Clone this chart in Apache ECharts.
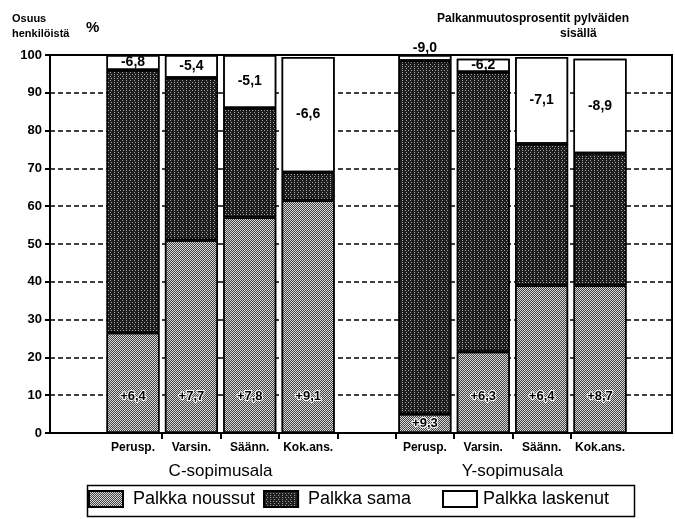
<!DOCTYPE html>
<html>
<head>
<meta charset="utf-8">
<script src="https://cdn.jsdelivr.net/npm/echarts@6/dist/echarts.min.js"></script>
<style>
  html, body { margin: 0; padding: 0; background: #fff; }
  #chart { width: 675px; height: 519px; }
</style>
</head>
<body>
<div id="chart"></div>
<script>
// pylväiden nimet ja paikat x-akselilla (5 = ryhmien väli)
var barNames = ['Perusp.', 'Varsin.', 'Säänn.', 'Kok.ans.', 'Perusp.', 'Varsin.', 'Säänn.', 'Kok.ans.'];
var barSlots = [1, 2, 3, 4, 6, 7, 8, 9];
var groupNames = ['C-sopimusala', 'Y-sopimusala'];
var groupSlots = [2.5, 7.5];
var yTicks = [0, 10, 20, 30, 40, 50, 60, 70, 80, 90, 100];

// osuus henkilöistä %
var noussut = [26.5, 51, 57, 61.5, 5, 21.5, 39, 39];
var sama = [69.5, 43, 29, 7.5, 93.5, 74, 37.5, 35];
var laskenut = [4, 6, 14, 30.5, 1.5, 3.5, 23, 25];

// palkanmuutosprosentit pylväiden sisällä
var nousuLabels = ['+6,4', '+7,7', '+7,8', '+9,1', '+9,3', '+6,3', '+6,4', '+8,7'];
var laskuLabels = ['-6,8', '-5,4', '-5,1', '-6,6', '-9,0', '-6,2', '-7,1', '-8,9'];

var font = '"Liberation Sans", Arial, sans-serif';

// arvo ensin, jotta pino lasketaan y-suunnassa
function pairs(vals) {
    return vals.map(function (v, i) { return [v, barSlots[i]]; });
}

var element = document.getElementById('chart');
var myChart = echarts.init(element);

var lowData = pairs(noussut).map(function (p, i) {
    // matala osa -> luku aivan pohjalle
    if (noussut[i] < 10) {
        return { value: p, label: { distance: 3 } };
    }
    return p;
});
var midData = pairs(sama);
var topData = pairs(laskenut).map(function (p, i) {
    // liian matala valkoinen osa -> luku pylvään yläpuolelle
    if (laskenut[i] < 3) {
        return { value: p, label: { position: 'top', distance: 0 } };
    }
    return p;
});

option = {
    aria: { enabled: true, decal: { show: true } },
    animation: false,
    grid: {
        left: 50,
        right: 3,
        top: 55,
        bottom: 86,
        show: true,
        borderColor: '#000',
        borderWidth: 2
    },
    xAxis: [
        {
            type: 'value',
            min: -0.422,
            max: 10.233,
            splitLine: { show: false },
            axisLine: { show: true, onZero: false, lineStyle: { color: '#000', width: 2 } },
            axisTick: {
                show: true,
                customValues: [1.5, 2.5, 3.5, 4.5, 5.5, 6.5, 7.5, 8.5],
                length: 6,
                lineStyle: { color: '#000', width: 2 }
            },
            axisLabel: {
                customValues: barSlots,
                formatter: function (v) {
                    return barNames[barSlots.indexOf(v)] || '';
                },
                color: '#000',
                fontFamily: font,
                fontWeight: 'bold',
                fontSize: 12,
                margin: 9
            }
        },
        {
            type: 'value',
            position: 'bottom',
            min: -0.422,
            max: 10.233,
            offset: 22,
            splitLine: { show: false },
            axisLine: { show: false },
            axisTick: { show: false },
            axisLabel: {
                customValues: groupSlots,
                formatter: function (v) {
                    return groupNames[groupSlots.indexOf(v)] || '';
                },
                color: '#000',
                fontFamily: font,
                fontSize: 17
            }
        }
    ],
    yAxis: {
        type: 'value',
        min: 0,
        max: 100,
        interval: 10,
        axisLine: { show: true, onZero: false, lineStyle: { color: '#000', width: 2 } },
        axisTick: { show: true, length: 5, lineStyle: { color: '#000', width: 2 } },
        axisLabel: {
            formatter: function (v) { return yTicks.indexOf(v) >= 0 ? String(v) : ''; },
            color: '#000',
            fontFamily: font,
            fontWeight: 'bold',
            fontSize: 13,
            margin: 8
        },
        splitLine: { show: true, lineStyle: { color: '#000', width: 1.5, type: [5, 3] } }
    },
    legend: [
        {
            data: ['Palkka noussut', 'Palkka sama'],
            left: 88,
            top: 490,
            padding: 0,
            icon: 'rect',
            itemWidth: 34,
            itemHeight: 16,
            itemGap: 8,
            textStyle: { color: '#000', fontFamily: font, fontSize: 18, padding: [0, 0, 0, 5] }
        },
        {
            data: ['Palkka laskenut'],
            left: 442,
            top: 490,
            padding: 0,
            icon: 'rect',
            itemWidth: 34,
            itemHeight: 16,
            textStyle: { color: '#000', fontFamily: font, fontSize: 18, padding: [0, 0, 0, 1] }
        }
    ],
    graphic: [
        { type: 'text', left: 12, top: 11, style: { text: 'Osuus\nhenkilöistä', font: 'bold 11px ' + font, fill: '#000', lineHeight: 15 } },
        { type: 'text', left: 86, top: 20, style: { text: '%', font: 'bold 15px ' + font, fill: '#000' } },
        { type: 'text', left: 437, top: 13, style: { text: 'Palkanmuutosprosentit pylväiden', font: 'bold 12px ' + font, fill: '#000' } },
        { type: 'text', left: 560, top: 28, style: { text: 'sisällä', font: 'bold 12px ' + font, fill: '#000' } },
        { type: 'rect', left: 85, top: 483, shape: { width: 547, height: 31 }, style: { fill: 'none', stroke: '#000', lineWidth: 1.5 } }
    ],
    series: [
        {
            name: 'Palkka noussut',
            type: 'bar',
            stack: 'osuus',
            barWidth: 53,
            encode: { x: 1, y: 0 },
            data: lowData,
            itemStyle: {
                color: '#d8d8d8',
                borderColor: '#000',
                borderWidth: 1.5,
                decal: {
                    symbol: 'rect',
                    symbolSize: 1,
                    color: '#444',
                    dashArrayX: [[1, 1], [0, 1, 1, 0]],
                    dashArrayY: [1, 0],
                    rotation: 0
                }
            },
            label: {
                show: true,
                position: 'insideBottom',
                distance: 30,
                formatter: function (p) { return nousuLabels[p.dataIndex]; },
                color: '#000',
                fontFamily: font,
                fontWeight: 'bold',
                fontSize: 13,
                textBorderColor: '#fff',
                textBorderWidth: 2
            }
        },
        {
            name: 'Palkka sama',
            type: 'bar',
            stack: 'osuus',
            barWidth: 53,
            encode: { x: 1, y: 0 },
            data: midData,
            itemStyle: {
                color: '#1c1c1c',
                borderColor: '#000',
                borderWidth: 1.5,
                decal: {
                    symbol: 'rect',
                    symbolSize: 1,
                    color: '#aaa',
                    dashArrayX: [[1, 2], [0, 1.5, 1, 0.5]],
                    dashArrayY: [1, 1],
                    rotation: 0
                }
            }
        },
        {
            name: 'Palkka laskenut',
            type: 'bar',
            stack: 'osuus',
            barWidth: 53,
            encode: { x: 1, y: 0 },
            data: topData,
            itemStyle: {
                color: '#ffffff',
                borderColor: '#000',
                borderWidth: 1.5,
                decal: { symbol: 'rect', color: 'rgba(255,255,255,0)' }
            },
            label: {
                show: true,
                position: 'inside',
                formatter: function (p) { return laskuLabels[p.dataIndex]; },
                color: '#000',
                fontFamily: font,
                fontWeight: 'bold',
                fontSize: 14
            }
        }
    ]
};

// 使用刚指定的配置项和数据显示图表。
myChart.setOption(option);

window.addEventListener('resize', function () {
    myChart.resize();
});
</script>
</body>
</html>
